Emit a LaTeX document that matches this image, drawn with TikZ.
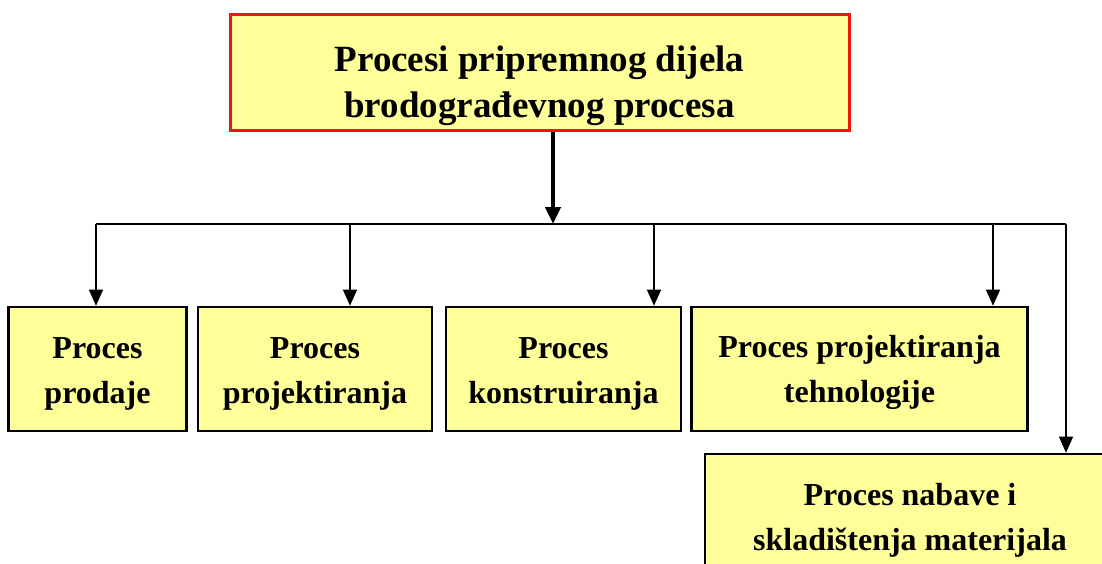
\documentclass[tikz,border=0pt]{standalone}
\usepackage{fontspec}
\setmainfont{Liberation Serif}
\usepackage{tikz}
\usetikzlibrary{shapes,arrows.meta,calc}
\definecolor{boxyellow}{RGB}{255,255,153}
\definecolor{boxred}{RGB}{240,20,20}
\tikzstyle{arrow} = [draw, line width=1.2pt, -{Triangle[width=14pt,length=16pt]}]
\tikzstyle{thickarrow} = [draw, line width=4.5pt, -{Triangle[width=15pt,length=17pt]}]
\tikzstyle{line} = [draw, line width=1.2pt]
\tikzstyle{process} = [draw, line width=2.6pt, fill=boxyellow, align=center, inner sep=0pt,
  minimum height=124pt, font=\fontsize{32}{45}\selectfont\bfseries]
% strut that pushes the text a little down in its box
\newcommand{\pushdown}[1]{\rule{0pt}{#1}}

\begin{document}
\begin{tikzpicture}[x=1pt, y=-1pt]
      \useasboundingbox (0,0) rectangle (1102,563);

      \node (top) at (539.5,72) [draw=boxred, line width=3pt, fill=boxyellow, align=center,
        inner sep=0pt, minimum width=619pt, minimum height=116pt,
        font=\fontsize{37}{46}\selectfont\bfseries] {\pushdown{53pt}Procesi pripremnog dijela\\brodograđevnog procesa};

      \node (prodaja) at (97.5,369) [process, minimum width=178pt] {\pushdown{30pt}Proces\\prodaje};
      \node (projekt) at (315,369) [process, minimum width=234pt] {\pushdown{30pt}Proces\\projektiranja};
      \node (konstr) at (563.5,369) [process, minimum width=235pt] {\pushdown{30pt}Proces\\konstruiranja};
      \node (tehno) at (859.5,369) [process, minimum width=336pt] {\pushdown{30pt}Proces projektiranja\\tehnologije};
      \node (nabava) at (910,516) [process, minimum width=410pt] {\pushdown{30pt}Proces nabave i\\skladištenja materijala};

      \coordinate (hub) at (553,224);
      \coordinate (b1) at (96,224);
      \coordinate (b2) at (350,224);
      \coordinate (b3) at (654,224);
      \coordinate (b4) at (993,224);
      \coordinate (b5) at (1066,224);

      \path[thickarrow] (top.south -| hub) -- (hub);
      \path[line] (b1) -- (b5);
      \path[arrow] (b1) -- (b1 |- prodaja.north);
      \path[arrow] (b2) -- (b2 |- projekt.north);
      \path[arrow] (b3) -- (b3 |- konstr.north);
      \path[arrow] (b4) -- (b4 |- tehno.north);
      \path[arrow] (b5) -- (b5 |- nabava.north);
    \end{tikzpicture}
\end{document}
